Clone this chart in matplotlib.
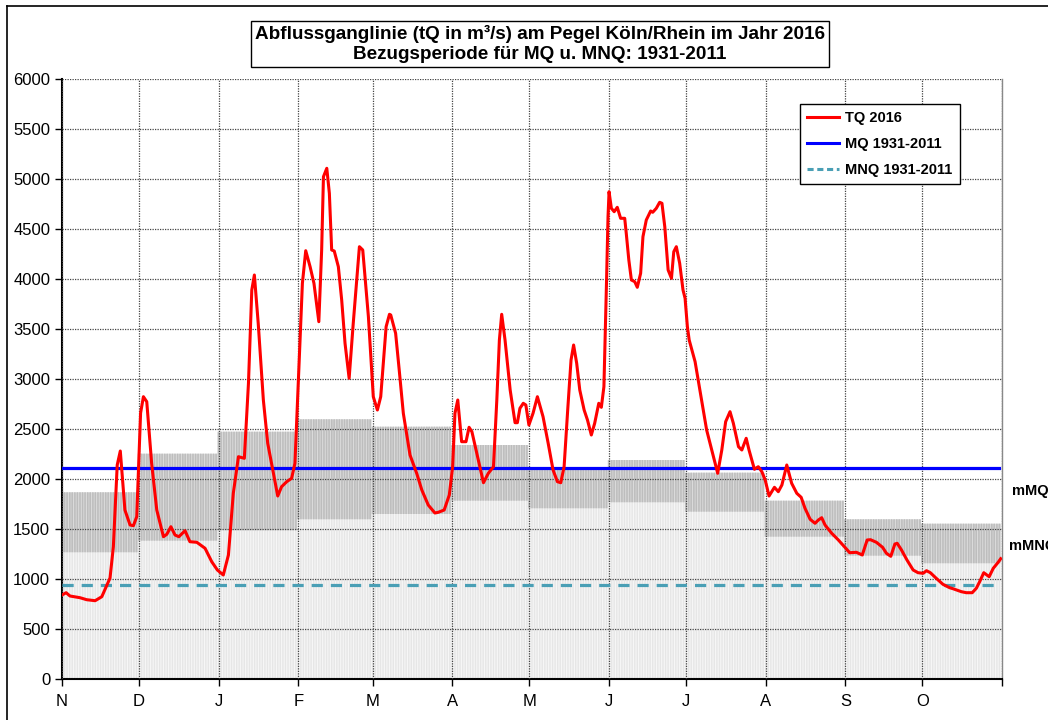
"""Abflussganglinie Pegel Koeln/Rhein 2016"""
# -*- coding: utf-8 -*-
import numpy as np
import matplotlib
matplotlib.use("Agg")
import matplotlib.pyplot as plt
from matplotlib.lines import Line2D

# Monate des Abflussjahres (Nov 2015 - Okt 2016), Tag 0 = 1. November
month_labels = ["N", "D", "J", "F", "M", "A", "M", "J", "J", "A", "S", "O"]
month_start_day = [0, 30, 61, 92, 121, 152, 182, 213, 243, 274, 305, 335, 366]

# monatliche Kennwerte (mMNQ unten, mMQ oben) in m3/s
mmnq_month = [1267, 1383, 1487, 1597, 1650, 1783, 1707, 1767, 1673, 1423, 1233, 1157]
mmq_month = [1867, 2253, 2473, 2597, 2523, 2340, 2107, 2190, 2063, 1783, 1597, 1553]

# Jahreskennwerte 1931-2011
mq_value = 2110
mnq_value = 945

# Tagesabfluss 2016 (Tag, Abfluss)
tq_day = [0, 1.6, 3.1, 7, 9.6, 12.9, 15.5, 18.7, 20, 21.5, 22.7, 24.5, 26.5, 27.8,
          29.1, 30.6, 31.7, 33, 34.9, 36.9, 39.5, 40.8, 42.4, 44, 45.5, 47.9, 49.8,
          52.5, 55.7, 58.3, 60.5, 62.8, 64.8, 66.7, 68.7, 71, 72.6, 73.9, 74.9, 76.4,
          78.4, 80.1, 82.3, 84, 85.5, 87.5, 89.4, 90.7, 92, 93.6, 94.9, 96.6, 98.1,
          100, 101.1, 101.8, 103.1, 104.1, 105, 106, 107.6, 108.9, 110.2, 111.8,
          113.4, 115.8, 117.1, 119.3, 121.2, 122.8, 124.1, 126.2, 127.5, 128, 129.9,
          131.3, 132.9, 135.5, 138.1, 140.1, 142.6, 145.2, 146.5, 148.8, 150.8,
          152.1, 153, 154.1, 155.6, 157.3, 158.5, 159.6, 161.5, 164.1, 166, 168,
          169.3, 170.3, 171.2, 172.5, 174.5, 176.4, 177.3, 178.3, 179.6, 180.6,
          181.8, 183.4, 185.1, 187.3, 189.3, 191.2, 192.9, 194.2, 195.5, 196.9,
          198.2, 199.2, 200.4, 201.6, 203.3, 204.6, 206.1, 207.4, 209, 210, 211,
          212, 212.6, 213, 213.9, 215, 216.2, 217.5, 219.1, 219.7, 220.7, 221.7,
          223, 224, 225.3, 226.2, 227.5, 229.2, 230, 231.4, 232.7, 233.6, 234.7,
          236, 237.3, 238.2, 239.2, 240.5, 241.8, 242.6, 243.5, 244.2, 246.5,
          248.8, 251, 253, 255.3, 256.9, 258.4, 260.1, 261.4, 263.4, 264.7, 266.4,
          267.5, 269.6, 271.1, 272.5, 273.8, 275.3, 277.4, 278.9, 280.3, 282.2,
          284.1, 286.1, 287.8, 289.3, 291.3, 293.2, 294.5, 295.8, 297.1, 299.7,
          302.3, 304.6, 306.7, 309.3, 311.6, 313.5, 314.8, 317.1, 319.5, 321,
          322.7, 324.3, 325.2, 326.8, 329, 331.4, 333.3, 335.3, 336.6, 338.1,
          340.4, 343, 345.6, 346.9, 350.2, 352.1, 354.4, 356, 357.3, 358.9, 361,
          362.6, 364.5, 365.5]
tq_value = [840, 863, 830, 813, 793, 783, 823, 1010, 1323, 2140, 2280, 1690, 1540, 1533,
            1623, 2660, 2823, 2773, 2157, 1690, 1423, 1447, 1523, 1440, 1423, 1483, 1373,
            1367, 1307, 1173, 1090, 1040, 1240, 1857, 2223, 2207, 2957, 3890, 4040, 3557,
            2790, 2357, 2057, 1830, 1923, 1973, 2007, 2157, 2957, 3957, 4283, 4123, 3957,
            3573, 4290, 5023, 5107, 4857, 4290, 4280, 4123, 3790, 3357, 3007,
            3557, 4323, 4290, 3623, 2823, 2690, 2823, 3523, 3647, 3640, 3457,
            3090, 2657, 2240, 2057, 1890, 1740, 1660, 1667, 1690, 1840,
            2123, 2657, 2790, 2373, 2373, 2517, 2473, 2257, 1963, 2057, 2123,
            2790, 3390, 3647, 3390, 2890, 2563, 2563, 2707, 2757, 2740,
            2540, 2657, 2823, 2623, 2357, 2090, 1973, 1963, 2123, 2690,
            3190, 3340, 3157, 2890, 2690, 2590, 2440, 2557, 2757, 2717, 2923,
            3957, 4623, 4873, 4707, 4673, 4717, 4607, 4607, 4457, 4190, 3990,
            3973, 3917, 4057, 4423, 4590, 4680, 4667, 4707, 4767, 4757, 4523,
            4090, 4007, 4273, 4323, 4157, 3890, 3807, 3523, 3390, 3173,
            2823, 2490, 2290, 2057, 2290, 2573, 2673, 2557, 2323, 2290, 2407,
            2290, 2097, 2123, 2073, 1990, 1830, 1917, 1873, 1940, 2140,
            1957, 1857, 1817, 1707, 1597, 1557, 1590, 1613, 1540, 1457,
            1390, 1323, 1263, 1267, 1240, 1390, 1393, 1367, 1317, 1257,
            1227, 1350, 1357, 1293, 1190, 1090, 1063, 1057, 1083, 1063,
            1007, 947, 913, 903, 873, 863, 863, 907, 973, 1063, 1023,
            1107, 1167, 1203]


def main():
    """main"""
    plt.rcParams["font.family"] = ["Liberation Sans", "DejaVu Sans"]

    fig = plt.figure(figsize=(10.48, 7.2), dpi=100)
    ax = fig.add_axes([62 / 1048, 41 / 720, 940 / 1048, 600 / 720])

    # Tagesbalken: hell bis mMNQ, dunkler zwischen mMNQ und mMQ
    # (breite Balken als Grundton, schmale darueber fuer die Streifen)
    lengths = np.diff(month_start_day)
    days = np.arange(month_start_day[-1])
    low = np.repeat(mmnq_month, lengths)
    high = np.repeat(mmq_month, lengths)
    ax.bar(days, low, width=1.0, color="#f4f4f4", lw=0, snap=False, zorder=1)
    ax.bar(days, low, width=0.5, color="#e6e6e6", lw=0, snap=False, zorder=1.1)
    ax.bar(days, high - low, bottom=low, width=1.0, color="#cfcfcf", lw=0,
           snap=False, zorder=1)
    ax.bar(days, high - low, bottom=low, width=0.5, color="#bdbdbd", lw=0,
           snap=False, zorder=1.1)

    # Hauptlinien
    ax.plot([0, 365], [mq_value, mq_value], color="#0000ff", lw=2.3, zorder=3)
    ax.plot([0, 365], [mnq_value, mnq_value], color="#4a9fb5", lw=2.3,
            ls=(0, (3.5, 2.5)), zorder=3)
    ax.plot(tq_day, tq_value, color="#ff0000", lw=2.2, zorder=4)

    ax.set_xlim(0, 366)
    ax.set_ylim(0, 6000)
    ax.set_yticks(np.arange(0, 6001, 500))
    ax.set_xticks(month_start_day)
    ax.set_xticklabels(month_labels + [""])
    ax.tick_params(axis="both", direction="out", length=5, width=1,
                   labelsize=12, color="black")
    ax.tick_params(axis="x", pad=6)

    # Gitter gepunktet ueber den Balken
    ax.set_axisbelow(False)
    ax.grid(True, color="#444444", ls=(0, (1, 1)), lw=0.9)

    ax.spines["top"].set_visible(False)
    ax.spines["right"].set_color("#888888")
    ax.spines["right"].set_linewidth(1)
    ax.spines["left"].set_linewidth(1.5)
    ax.spines["bottom"].set_linewidth(1.5)

    # Legende
    handles = [Line2D([], [], color="#ff0000", lw=2.2),
               Line2D([], [], color="#0000ff", lw=2.2),
               Line2D([], [], color="#4a9fb5", lw=2.2, ls=(0, (2, 1.2)))]
    leg = ax.legend(handles, ["TQ 2016", "MQ 1931-2011", "MNQ 1931-2011"],
                    loc="upper left", bbox_to_anchor=(0.785, 0.958),
                    prop={"weight": "bold", "size": 10.5}, frameon=True,
                    fancybox=False, edgecolor="black", framealpha=1,
                    handlelength=2.2, labelspacing=0.8, borderpad=0.5,
                    handletextpad=0.4, borderaxespad=0)
    leg.get_frame().set_linewidth(1)
    leg.set_zorder(6)

    # Titel im Kasten
    fig.text(540 / 1048, 1 - 44 / 720,
             "Abflussganglinie (tQ in m³/s) am Pegel Köln/Rhein im Jahr 2016\n"
             "Bezugsperiode für MQ u. MNQ: 1931-2011",
             ha="center", va="center", fontsize=13.6, fontweight="bold",
             linespacing=1.22,
             bbox=dict(boxstyle="square,pad=0.2", fc="white", ec="black", lw=1))

    # Beschriftung rechts (wie im Original am Rand angeschnitten)
    fig.text(1012 / 1048, 1 - 491 / 720, "mMQ", ha="left", va="center",
             fontsize=10.5, fontweight="bold")
    fig.text(1009 / 1048, 1 - 546 / 720, "mMNQ", ha="left", va="center",
             fontsize=10.5, fontweight="bold")

    # Rahmen um die Grafik
    fig.add_artist(Line2D([6.5 / 1048, 6.5 / 1048], [0, 1 - 6 / 720],
                          color="black", lw=1.2, transform=fig.transFigure))
    fig.add_artist(Line2D([6.5 / 1048, 1], [1 - 6 / 720, 1 - 6 / 720],
                          color="black", lw=1.2, transform=fig.transFigure))

    fig.savefig("out.png", dpi=100)
    plt.close("all")
    return 0


if __name__ == "__main__":
    main()
